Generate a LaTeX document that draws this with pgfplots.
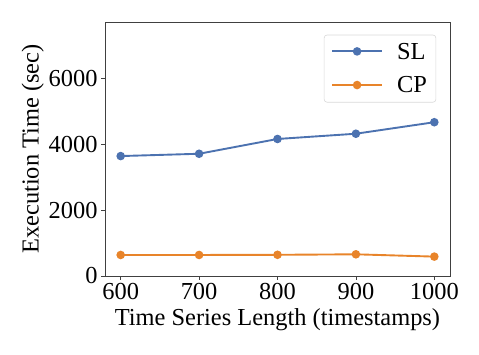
\documentclass[border=0pt]{standalone}
\usepackage{pgfplots}
\pgfplotsset{compat=1.18}
\usepackage{fontspec}
\setmainfont{Liberation Serif}
\definecolor{slblue}{HTML}{4C72B0}
\definecolor{cporange}{HTML}{E8842A}
\begin{document}
\begin{tikzpicture}
\path[use as bounding box] (0bp,0bp) rectangle (479bp,355bp);
\begin{axis}[
    at={(105bp,79bp)}, anchor=south west,
    scale only axis,
    width=345bp, height=254bp,
    xmin=580, xmax=1020,
    ymin=0, ymax=7730,
    xtick={600,700,800,900,1000},
    ytick={0,2000,4000,6000},
    tick align=outside,
    xtick pos=bottom, ytick pos=left,
    major tick length=4bp,
    axis line style={black!75, line width=0.8pt},
    tick style={black!75, line width=0.8pt},
    font=\fontsize{24.5}{28}\selectfont,
    ticklabel style={font=\fontsize{24.5}{28}\selectfont},
    /pgf/number format/assume math mode=true,
    scaled y ticks=false,
    /pgf/number format/1000 sep={},
    xlabel={Time Series Length (timestamps)},
    ylabel={Execution Time (sec)},
    xlabel style={yshift=-2bp},
    ylabel style={yshift=-2bp},
    legend style={at={(0.96,0.95)}, anchor=north east,
        draw=black!15, rounded corners=3pt, line width=0.6pt,
        font=\fontsize{24.5}{28}\selectfont,
        inner xsep=7pt, inner ysep=6pt, row sep=12bp},
    legend cell align=left,
    legend image code/.code={
        \draw[#1, line width=2pt, mark=none] (0bp,0.4bp) -- (50bp,0.4bp);
        \path[#1, only marks] plot coordinates {(25bp,0.4bp)};
    },
]
\addplot[slblue, line width=1.9pt, mark=*, mark size=3.3pt] coordinates {
    (600,3650) (700,3720) (800,4170) (900,4330) (1000,4680)
};
\addlegendentry{\hspace{12bp}SL}
\addplot[cporange, line width=1.9pt, mark=*, mark size=3.3pt] coordinates {
    (600,640) (700,640) (800,645) (900,660) (1000,590)
};
\addlegendentry{\hspace{12bp}CP}
\end{axis}
\end{tikzpicture}
\end{document}
